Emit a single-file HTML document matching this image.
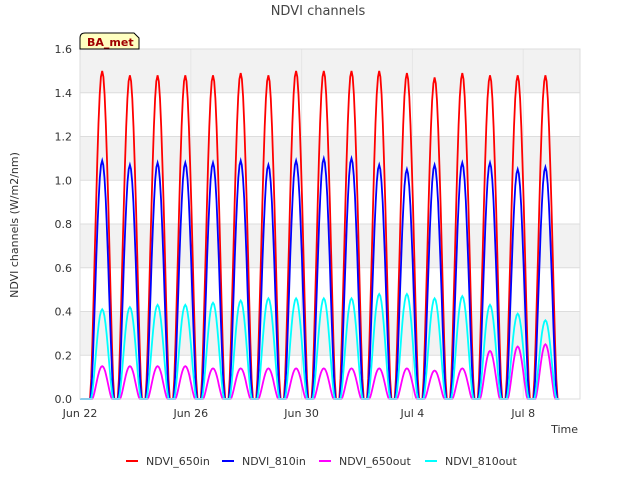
<!DOCTYPE html>
<html><head><meta charset="utf-8"><style>
body{margin:0;background:#fff;font-family:"Liberation Sans","DejaVu Sans",sans-serif}
</style></head><body>
<svg id="c" width="640" height="480" style="font-family:'DejaVu Sans','Liberation Sans',sans-serif">
<text x="318" y="15" text-anchor="middle" font-size="13" fill="#444">NDVI channels</text>
<g id="bands"></g>
<g id="grid"></g>
<g id="lines"></g>
<g id="axes"></g>
<text x="18" y="225" transform="rotate(-90 18 225)" text-anchor="middle" font-size="11" fill="#333">NDVI channels (W/m2/nm)</text>
<text x="578" y="433" text-anchor="end" font-size="11" fill="#333">Time</text>
<g>
<path d="M80 49 L80 38 Q80 33 85 33 L134 33 L139 38 L139 49 Z" fill="#ffffc0" stroke="#000" stroke-width="1"/>
<text x="87" y="46" font-size="11" font-weight="bold" fill="#a00000">BA_met</text>
</g>
<g id="legend"></g>
</svg>
<script>
const days=[0,1,2,3,4,5,6,7,8,9,10,11,12,13,14,15,16];
const red=[1.50,1.48,1.48,1.48,1.48,1.49,1.48,1.50,1.50,1.50,1.50,1.49,1.47,1.49,1.48,1.48,1.48];
const blue=[1.09,1.07,1.08,1.08,1.08,1.09,1.07,1.09,1.10,1.10,1.07,1.05,1.07,1.08,1.08,1.05,1.06];
const magenta=[0.15,0.15,0.15,0.15,0.14,0.14,0.14,0.14,0.14,0.14,0.14,0.14,0.13,0.14,0.22,0.24,0.25];
const cyan=[0.41,0.42,0.43,0.43,0.44,0.45,0.46,0.46,0.46,0.46,0.48,0.48,0.46,0.47,0.43,0.39,0.36];
const yTicks=[0,0.2,0.4,0.6,0.8,1.0,1.2,1.4,1.6];
const xTicks=[0,4,8,12,16];
const xLabels=["Jun 22","Jun 26","Jun 30","Jul 4","Jul 8"];
const NS="http://www.w3.org/2000/svg";
const X0=80,X1=580,Y0=399,Y1=49;
const DMAX=18.05;
const x=d=>X0+d/DMAX*(X1-X0);
const y=v=>Y0-v/1.6*(Y0-Y1);
function mk(t,a,p){const e=document.createElementNS(NS,t);for(const k in a)e.setAttribute(k,a[k]);document.getElementById(p).appendChild(e);return e;}
for(let i=0;i<yTicks.length-1;i++){
 if(i%2===1){const r=mk('rect',{x:X0,y:y(yTicks[i+1]),width:X1-X0,height:y(yTicks[i])-y(yTicks[i+1]),fill:'#f2f2f2'},'bands');
 
 }
}
yTicks.forEach(v=>{
 const l=mk('line',{x1:X0,x2:X1,y1:y(v),y2:y(v),stroke:'#ddd'},'grid');
 
 
 const t=mk('text',{x:X0-8,y:y(v)+4,'text-anchor':'end','font-size':11,fill:'#333'},'axes');
 t.textContent=v.toFixed(1);
 
 
});
xTicks.forEach((d,i)=>{
 const l=mk('line',{x1:x(d),x2:x(d),y1:Y0,y2:Y1,stroke:'#e6e6e6'},'grid');
 
 
 const t=mk('text',{x:x(d),y:Y0+18,'text-anchor':'middle','font-size':11,fill:'#333'},'axes');
 t.textContent=xLabels[i];
 
 
});
const fr=mk('rect',{x:X0,y:Y1,width:X1-X0,height:Y0-Y1,fill:'none',stroke:'#ddd'},'axes');


function series(peaks,color,hw,name){
 let pts=[[x(0),y(0)]];
 days.forEach((d,i)=>{
  const c=d+0.8;
  pts.push([x(c-0.5),y(0)]);
  for(let k=-10;k<=10;k++){const f=k/10;const v=peaks[i]*Math.pow(Math.cos(f*Math.PI/2),1.5);pts.push([x(c+f*hw),y(v)]);}
  pts.push([x(c+0.5),y(0)]);
 });
 const p=mk('polyline',{points:pts.map(q=>q[0].toFixed(1)+','+q[1].toFixed(1)).join(' '),fill:'none',stroke:color,'stroke-width':1.8},'lines');
 
 
}
series(red,'#ff0000',0.44,'series-ndvi-650in');
series(blue,'#0000ff',0.42,'series-ndvi-810in');
series(magenta,'#ff00ff',0.36,'series-ndvi-650out');
series(cyan,'#00ffff',0.4,'series-ndvi-810out');
const leg=[["NDVI_650in","#ff0000",126],["NDVI_810in","#0000ff",222],["NDVI_650out","#ff00ff",319],["NDVI_810out","#00ffff",425]];
leg.forEach(l=>{
 const g=mk('g',{},'legend');
 
 
 const ln=document.createElementNS(NS,'line');
 ln.setAttribute('x1',l[2]);ln.setAttribute('x2',l[2]+12);ln.setAttribute('y1',461);ln.setAttribute('y2',461);ln.setAttribute('stroke',l[1]);ln.setAttribute('stroke-width',2);
 g.appendChild(ln);
 const t=document.createElementNS(NS,'text');
 t.setAttribute('x',l[2]+20);t.setAttribute('y',465);t.setAttribute('font-size',11);t.setAttribute('fill','#333');t.textContent=l[0];
 g.appendChild(t);
});
</script>
</body></html>
